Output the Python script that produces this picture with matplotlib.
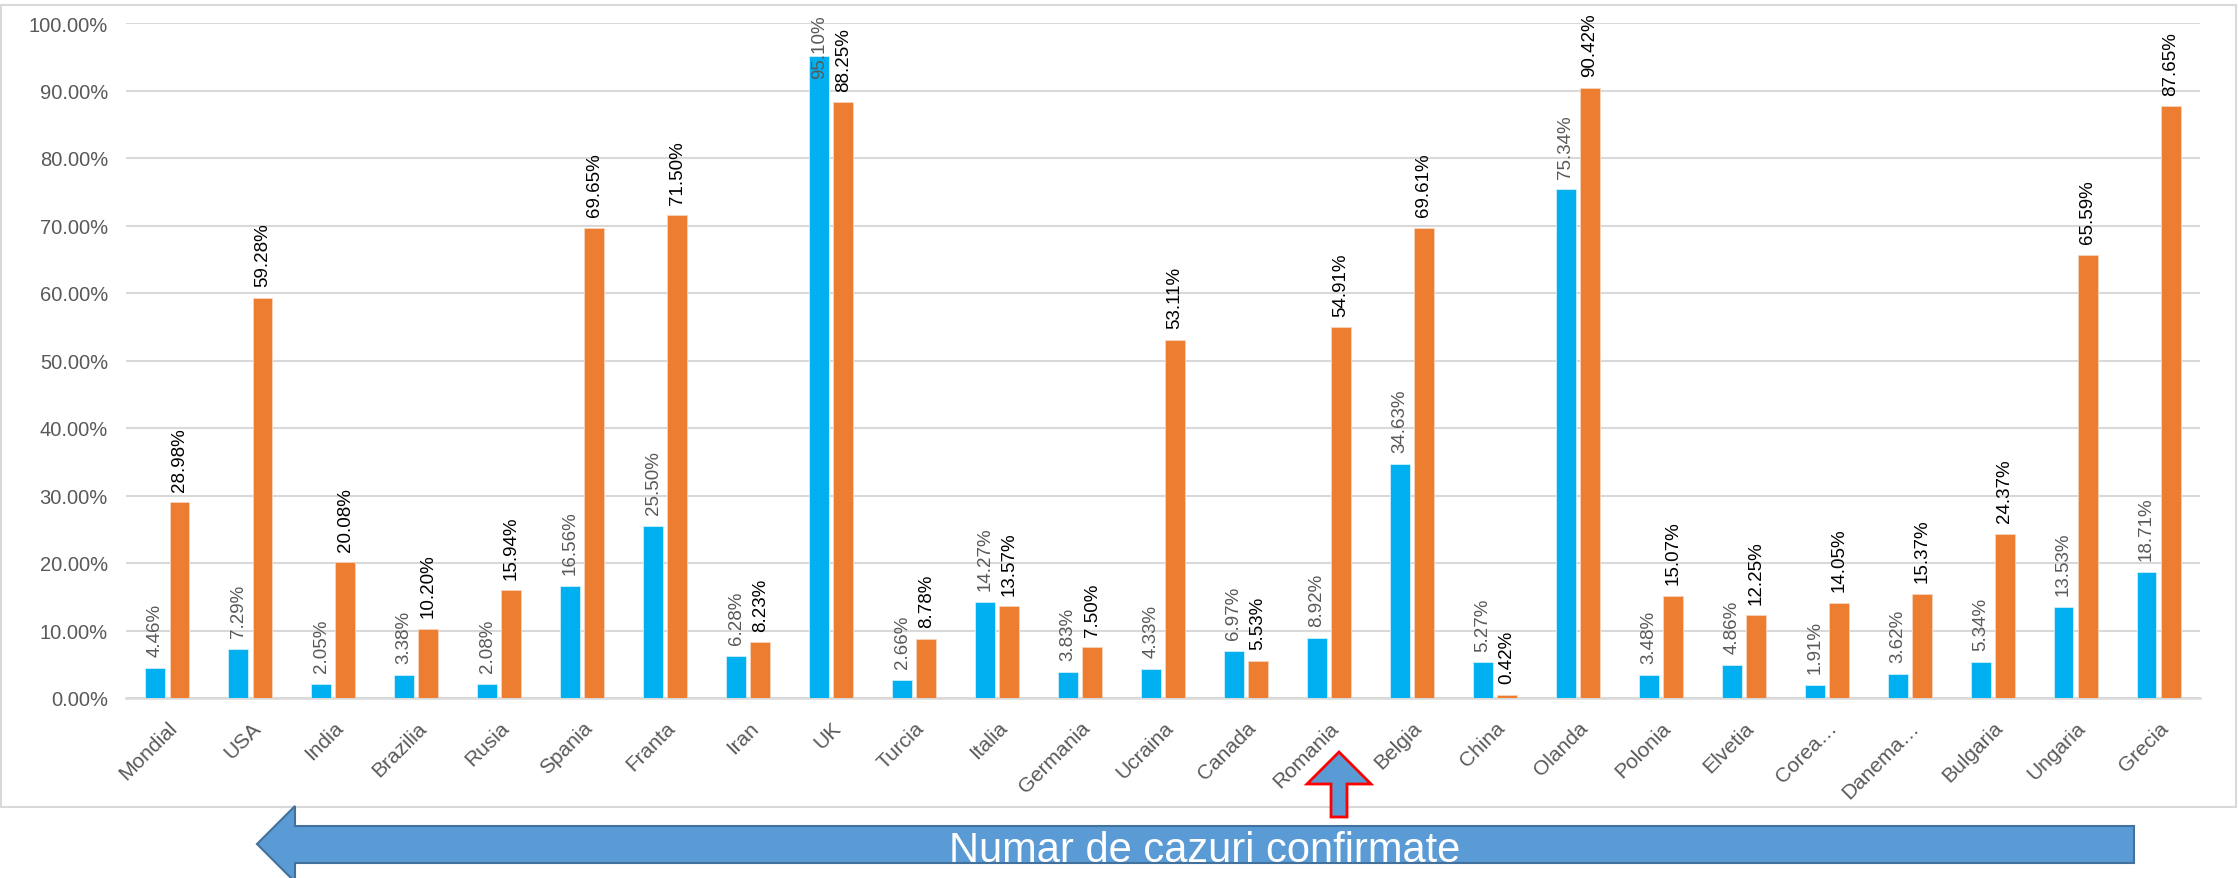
import matplotlib.pyplot as plt
from matplotlib.patches import Polygon, Rectangle
from matplotlib.transforms import ScaledTranslation

plt.rcParams['font.family'] = ['Liberation Sans', 'DejaVu Sans']

# Data
countries = ['Mondial', 'USA', 'India', 'Brazilia', 'Rusia', 'Spania', 'Franta',
             'Iran', 'UK', 'Turcia', 'Italia', 'Germania', 'Ucraina', 'Canada',
             'Romania', 'Belgia', 'China', 'Olanda', 'Polonia', 'Elvetia',
             'Corea…', 'Danema…', 'Bulgaria', 'Ungaria', 'Grecia']
blue_vals = [4.46, 7.29, 2.05, 3.38, 2.08, 16.56, 25.50, 6.28, 95.10, 2.66,
             14.27, 3.83, 4.33, 6.97, 8.92, 34.63, 5.27, 75.34, 3.48, 4.86,
             1.91, 3.62, 5.34, 13.53, 18.71]
orange_vals = [28.98, 59.28, 20.08, 10.20, 15.94, 69.65, 71.50, 8.23, 88.25,
               8.78, 13.57, 7.50, 53.11, 5.53, 54.91, 69.61, 0.42, 90.42,
               15.07, 12.25, 14.05, 15.37, 24.37, 65.59, 87.65]
y_ticks = [0, 10, 20, 30, 40, 50, 60, 70, 80, 90, 100]
arrow_text = 'Numar de cazuri confirmate'

W, H = 2239, 879
BLUE = '#00B0F0'
ORANGE = '#ED7D31'
GRID = '#D9D9D9'
GRAY_TXT = '#595959'


def fx(px):
    return px / W


def fy(py):
    return 1 - py / H


fig = plt.figure(figsize=(W / 100, H / 100), dpi=100)
ax = fig.add_axes([fx(126), fy(699), fx(2200) - fx(126), fy(24) - fy(699)])

x = list(range(len(countries)))
bw = 0.24
off = 0.145
xb = [i - off for i in x]
xo = [i + off for i in x]
ax.bar(xb, blue_vals, width=bw, color=BLUE, edgecolor='#CFEFFB', linewidth=0.6, zorder=3)
ax.bar(xo, orange_vals, width=bw, color=ORANGE, edgecolor='#F8D3BC', linewidth=0.6, zorder=3)

# Data labels
for xi, v in zip(xb, blue_vals):
    if v > 93:
        ax.text(xi, 101.3, f'{v:.2f}%', rotation=90, ha='center', va='top',
                fontsize=13.5, color=GRAY_TXT, zorder=4, clip_on=False)
    else:
        ax.annotate(f'{v:.2f}%', (xi, v), xytext=(0, 8.5), textcoords='offset points',
                    rotation=90, ha='center', va='bottom', fontsize=13.5,
                    color=GRAY_TXT, zorder=4)
for xi, v in zip(xo, orange_vals):
    ax.annotate(f'{v:.2f}%', (xi, v), xytext=(0, 8.5), textcoords='offset points',
                rotation=90, ha='center', va='bottom', fontsize=13.5,
                color='black', zorder=4)

ax.set_xlim(-0.5, len(countries) - 0.5)
ax.set_ylim(0, 100)
ax.set_yticks(y_ticks)
ax.set_yticklabels([f'{t:.2f}%' for t in y_ticks], fontsize=14.5, color=GRAY_TXT)
ax.yaxis.grid(True, color=GRID, linewidth=1.5, zorder=0)
ax.set_axisbelow(True)
ax.tick_params(axis='y', length=0, pad=13)
ax.tick_params(axis='x', length=0, pad=19)
ax.set_xticks(x)
ax.set_xticklabels(countries, rotation=45, ha='right', va='center',
                   rotation_mode='anchor', fontsize=15, color=GRAY_TXT)
for lab in ax.get_xticklabels():
    lab.set_transform(lab.get_transform() + ScaledTranslation(0.07, 0, fig.dpi_scale_trans))
for s in ['top', 'right', 'left']:
    ax.spines[s].set_visible(False)
ax.spines['bottom'].set_color(GRID)
ax.spines['bottom'].set_linewidth(1.8)

# Chart border
fig.patches.append(Rectangle((fx(1), fy(808)), fx(2236) - fx(1), fy(6) - fy(808),
                             transform=fig.transFigure, fill=False,
                             edgecolor=GRID, linewidth=1.5))

# Big left arrow
big = [(257, 845), (295, 807), (295, 827), (2134, 827), (2134, 864),
       (295, 864), (295, 883)]
fig.patches.append(Polygon([(fx(a), fy(b)) for a, b in big], closed=True,
                           transform=fig.transFigure, facecolor='#5B9BD5',
                           edgecolor='#41719C', linewidth=1.5))
fig.text(fx(1205), fy(862), arrow_text, ha='center', va='baseline',
         fontsize=30, color='white')

# Small up arrow
small = [(1339, 753), (1371, 785), (1347, 785), (1347, 818), (1331, 818),
         (1331, 785), (1307, 785)]
fig.patches.append(Polygon([(fx(a), fy(b)) for a, b in small], closed=True,
                           transform=fig.transFigure, facecolor='#5B9BD5',
                           edgecolor='red', linewidth=2, zorder=5))

fig.savefig('out.png', dpi=100)
